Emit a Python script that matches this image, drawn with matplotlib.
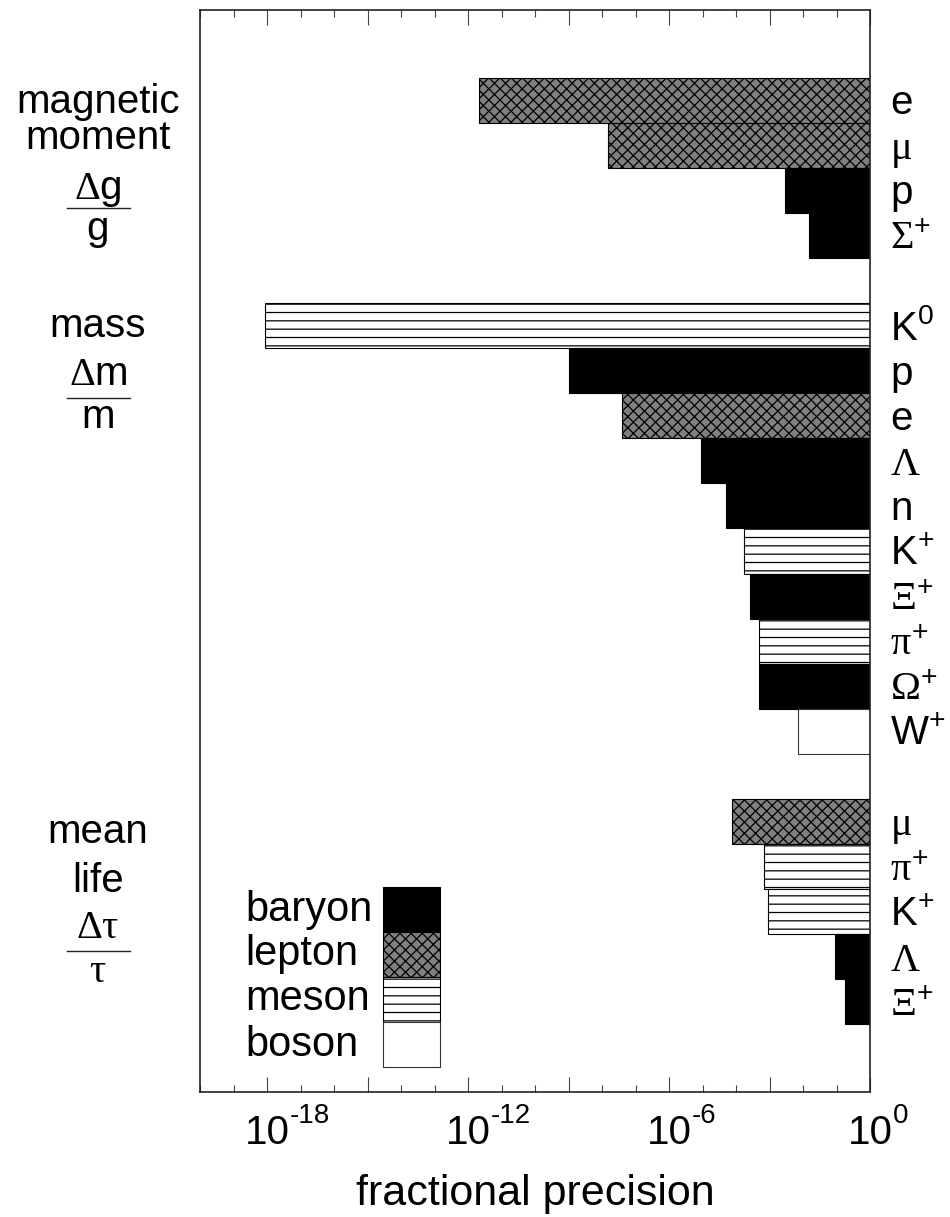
import numpy as np
import matplotlib
matplotlib.use('Agg')
import matplotlib.pyplot as plt
from matplotlib.ticker import FixedLocator, NullFormatter, NullLocator

plt.rcParams['font.family'] = ['Liberation Sans', 'DejaVu Sans']
plt.rcParams['mathtext.fontset'] = 'custom'
plt.rcParams['mathtext.rm'] = 'Liberation Serif'
plt.rcParams['mathtext.it'] = 'Liberation Serif'
plt.rcParams['mathtext.sf'] = 'Liberation Sans'
plt.rcParams['hatch.linewidth'] = 0.9

# ---------------- data ----------------
mag_particles = ['e', 'mu', 'p', 'Sigma+']
mag_types = ['lepton', 'lepton', 'baryon', 'baryon']
mag_precision = [2.1e-12, 1.5e-8, 2.9e-3, 1.5e-2]

mass_particles = ['K0', 'p', 'e', 'Lambda', 'n', 'K+', 'Xi+', 'pi+', 'Omega+', 'W+']
mass_types = ['meson', 'baryon', 'lepton', 'baryon', 'baryon', 'meson', 'baryon', 'meson', 'baryon', 'boson']
mass_precision = [9e-19, 1.0e-9, 4.0e-8, 9e-6, 5e-5, 1.7e-4, 2.6e-4, 4.9e-4, 4.9e-4, 7e-3]

life_particles = ['mu', 'pi+', 'K+', 'Lambda', 'Xi+']
life_types = ['lepton', 'meson', 'meson', 'baryon', 'baryon']
life_precision = [7.6e-5, 6.9e-4, 9.1e-4, 9e-2, 1.8e-1]

legend_types = ['baryon', 'lepton', 'meson', 'boson']
tick_exponents_labeled = [-18, -12, -6, 0]

particle_tex = {
    'e': r'$\mathsf{e}$', 'mu': r'$\mu$', 'p': r'$\mathsf{p}$', 'n': r'$\mathsf{n}$',
    'Sigma+': r'$\Sigma^{\mathsf{+}}$', 'K0': r'$\mathsf{K^{0}}$', 'K+': r'$\mathsf{K^{+}}$',
    'Lambda': r'$\Lambda$', 'Xi+': r'$\Xi^{\mathsf{+}}$', 'pi+': r'$\pi^{\mathsf{+}}$',
    'Omega+': r'$\Omega^{\mathsf{+}}$', 'W+': r'$\mathsf{W^{+}}$',
}
styles = {
    'baryon': dict(facecolor='black', hatch=None, edgecolor='black'),
    'lepton': dict(facecolor='#808080', hatch='xxx', edgecolor='black'),
    'meson': dict(facecolor='white', hatch='--', edgecolor='black'),
    'boson': dict(facecolor='white', hatch=None, edgecolor='#333333'),
}

W, H = 950, 1217
def fx(x): return x / W
def fy(y): return 1 - y / H

fig = plt.figure(figsize=(9.5, 12.17), dpi=100)
ax = fig.add_axes([fx(200), fy(1092), fx(870) - fx(200), fy(10) - fy(1092)])

groups = [(mag_particles, mag_types, mag_precision),
          (mass_particles, mass_types, mass_precision),
          (life_particles, life_types, life_precision)]
row = 0
LABEL_FS = 29
for parts, types, prec in groups:
    for name, t, p in zip(parts, types, prec):
        st = styles[t]
        ax.barh(row, 1 - p, left=p, height=1.0, color=st['facecolor'],
                edgecolor=st['edgecolor'], hatch=st['hatch'], linewidth=0.8)
        ax.annotate(particle_tex[name], xy=(1, row), xycoords=('axes fraction', 'data'),
                    xytext=(20, -14), textcoords='offset pixels', ha='left',
                    va='baseline', fontsize=LABEL_FS, annotation_clip=False)
        row += 1
    row += 1

ax.set_xscale('log')
ax.set_xlim(1e-20, 1)
ax.set_ylim(22, -2)
ax.yaxis.set_major_locator(NullLocator())
ax.xaxis.set_major_locator(FixedLocator(10.0 ** np.arange(-18, 1, 3)))
ax.xaxis.set_minor_locator(FixedLocator(10.0 ** np.arange(-20, 1)))
ax.xaxis.set_major_formatter(NullFormatter())
ax.xaxis.set_minor_formatter(NullFormatter())
ax.tick_params(axis='x', which='both', direction='in', top=True, bottom=True, color='#444444', width=0.8)
ax.tick_params(axis='x', which='major', length=10.8)
ax.tick_params(axis='x', which='minor', length=5.0)
for s in ax.spines.values():
    s.set_linewidth(1.2)
    s.set_color('#222222')

for e in tick_exponents_labeled:
    ax.annotate('10', xy=(10.0 ** e, 0), xycoords=('data', 'axes fraction'),
                xytext=(0, -22), textcoords='offset pixels', ha='center', va='top',
                fontsize=29, annotation_clip=False)
    ax.annotate(str(e), xy=(10.0 ** e, 0), xycoords=('data', 'axes fraction'),
                xytext=(23, -11), textcoords='offset pixels', ha='left', va='top',
                fontsize=20, annotation_clip=False)

fig.text(fx(535), fy(1205), 'fractional precision', ha='center', va='baseline', fontsize=31)

# group labels on the left
cx = 98
def glabel(txt, ybase):
    fig.text(fx(cx), fy(ybase), txt, ha='center', va='baseline', fontsize=LABEL_FS)
def gline(y):
    fig.add_artist(plt.Line2D([fx(67), fx(130)], [fy(y), fy(y)], color='#222222', lw=1.0))

glabel('magnetic', 113)
glabel('moment', 149)
glabel(r'$\Delta\mathsf{g}$', 199)
gline(208)
glabel('g', 240)
glabel('mass', 337)
glabel(r'$\Delta\mathsf{m}$', 385)
gline(398)
glabel('m', 428)
glabel('mean', 843)
glabel('life', 892)
glabel(r'$\Delta\tau$', 938)
gline(951)
glabel(r'$\tau$', 982)

# legend
lax = fig.add_axes([fx(383), fy(1067), fx(440) - fx(383), fy(887) - fy(1067)])
for i, t in enumerate(legend_types):
    st = styles[t]
    lax.barh(i, 1, left=0, height=1.0, color=st['facecolor'], edgecolor=st['edgecolor'],
             hatch=st['hatch'], linewidth=0.8, clip_on=False)
    lax.annotate(t, xy=(0, i), xycoords=('axes fraction', 'data'), xytext=(-138, -11),
                 textcoords='offset pixels', ha='left', va='baseline', fontsize=30,
                 annotation_clip=False)
lax.set_xlim(0, 1)
lax.set_ylim(3.5, -0.5)
lax.axis('off')

fig.savefig('out.png', dpi=100)
